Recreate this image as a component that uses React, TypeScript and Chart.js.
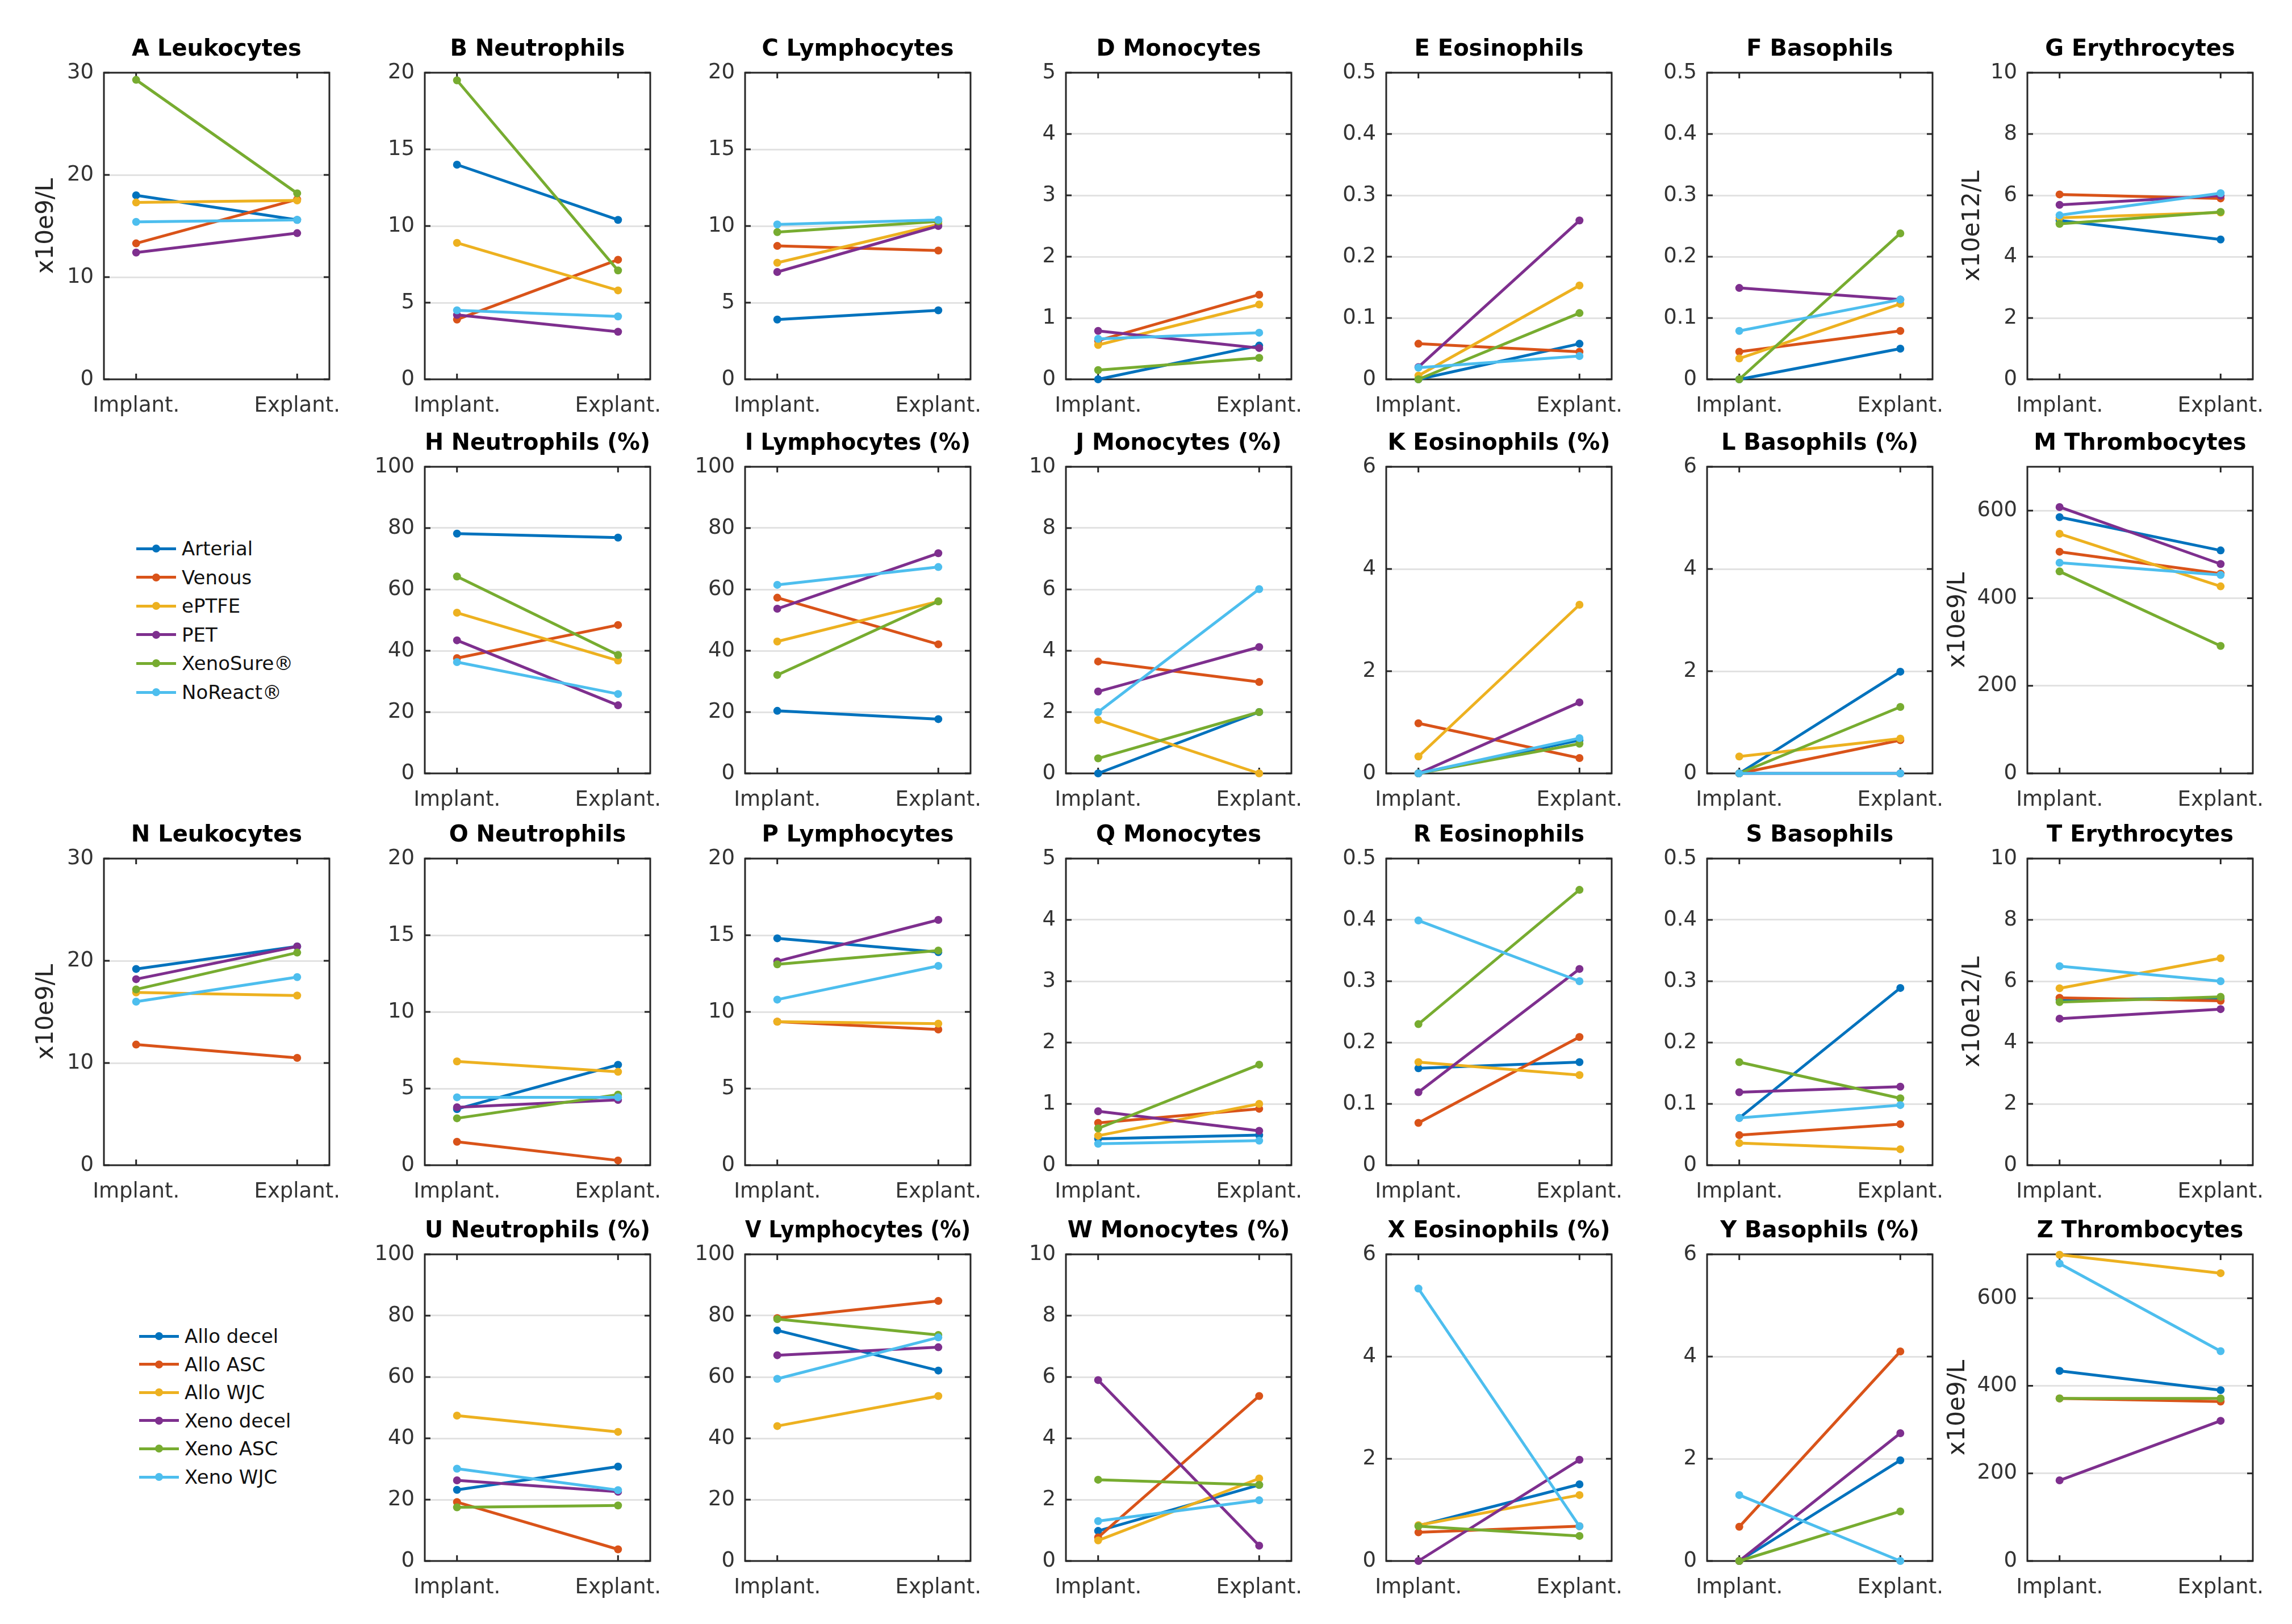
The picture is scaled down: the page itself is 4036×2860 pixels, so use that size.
import React, { useEffect, useRef } from "react";
import { Chart, registerables } from "chart.js";

Chart.register(...registerables);

// ---------- data ----------
const CATEGORIES = ["Implant.", "Explant."];
const GROUPS_TOP = ["Arterial", "Venous", "ePTFE", "PET", "XenoSure®", "NoReact®"];
const GROUPS_BOTTOM = ["Allo decel", "Allo ASC", "Allo WJC", "Xeno decel", "Xeno ASC", "Xeno WJC"];
const COLORS = ["#0072BD", "#D95319", "#EDB120", "#7E2F8E", "#77AC30", "#4DBEEE"];

// each row: [implant, explant] in series order blue, orange, yellow, purple, green, cyan
const A_LEUKOCYTES = [[18.0, 15.6], [13.3, 17.6], [17.3, 17.5], [12.4, 14.3], [29.3, 18.2], [15.4, 15.6]];
const B_NEUTROPHILS = [[14.0, 10.4], [3.9, 7.8], [8.9, 5.8], [4.2, 3.1], [19.5, 7.1], [4.5, 4.1]];
const C_LYMPHOCYTES = [[3.9, 4.5], [8.7, 8.4], [7.6, 10.1], [7.0, 10.0], [9.6, 10.3], [10.1, 10.4]];
const D_MONOCYTES = [[0, 0.55], [0.63, 1.38], [0.56, 1.22], [0.79, 0.51], [0.15, 0.35], [0.66, 0.76]];
const E_EOSINOPHILS = [[0, 0.058], [0.058, 0.045], [0.006, 0.153], [0.02, 0.259], [0, 0.108], [0.019, 0.038]];
const F_BASOPHILS = [[0, 0.05], [0.045, 0.079], [0.034, 0.123], [0.149, 0.13], [0, 0.238], [0.079, 0.13]];
const G_ERYTHROCYTES = [[5.18, 4.56], [6.03, 5.9], [5.27, 5.44], [5.69, 5.99], [5.07, 5.46], [5.35, 6.07]];
const H_NEUTROPHILS_PCT = [[78.2, 76.9], [37.6, 48.4], [52.4, 36.8], [43.4, 22.2], [64.2, 38.6], [36.3, 25.9]];
const I_LYMPHOCYTES_PCT = [[20.4, 17.7], [57.3, 42.1], [43.0, 56.1], [53.7, 71.8], [32.1, 56.1], [61.5, 67.3]];
const J_MONOCYTES_PCT = [[0, 2.0], [3.65, 2.98], [1.74, 0], [2.67, 4.12], [0.49, 2.0], [2.0, 6.01]];
const K_EOSINOPHILS_PCT = [[0, 0.65], [0.98, 0.3], [0.33, 3.3], [0, 1.39], [0, 0.58], [0, 0.69]];
const L_BASOPHILS_PCT = [[0, 1.99], [0, 0.65], [0.33, 0.68], [0, 0], [0, 1.3], [0, 0]];
const M_THROMBOCYTES = [[585, 509], [506, 456], [547, 427], [608, 478], [461, 291], [481, 453]];
const N_LEUKOCYTES = [[19.2, 21.4], [11.8, 10.5], [16.9, 16.6], [18.2, 21.4], [17.2, 20.8], [16.0, 18.4]];
const O_NEUTROPHILS = [[3.66, 6.55], [1.53, 0.31], [6.77, 6.09], [3.78, 4.26], [3.06, 4.6], [4.43, 4.43]];
const P_LYMPHOCYTES = [[14.8, 13.9], [9.36, 8.85], [9.36, 9.23], [13.3, 16.0], [13.1, 14.0], [10.8, 13.0]];
const Q_MONOCYTES = [[0.43, 0.49], [0.69, 0.92], [0.48, 1.0], [0.88, 0.56], [0.6, 1.64], [0.35, 0.4]];
const R_EOSINOPHILS = [[0.158, 0.168], [0.069, 0.209], [0.168, 0.147], [0.119, 0.32], [0.23, 0.449], [0.399, 0.3]];
const S_BASOPHILS = [[0.077, 0.289], [0.049, 0.067], [0.036, 0.026], [0.119, 0.128], [0.168, 0.109], [0.077, 0.098]];
const T_ERYTHROCYTES = [[5.4, 5.45], [5.46, 5.36], [5.77, 6.75], [4.78, 5.09], [5.32, 5.49], [6.49, 6.0]];
const U_NEUTROPHILS_PCT = [[23.2, 30.8], [19.2, 3.8], [47.4, 42.1], [26.3, 22.6], [17.5, 18.1], [30.1, 23.1]];
const V_LYMPHOCYTES_PCT = [[75.2, 62.1], [79.2, 84.8], [44.0, 53.8], [67.1, 69.7], [78.9, 73.7], [59.4, 72.9]];
const W_MONOCYTES_PCT = [[0.98, 2.48], [0.77, 5.38], [0.67, 2.69], [5.9, 0.5], [2.65, 2.48], [1.3, 1.98]];
const X_EOSINOPHILS_PCT = [[0.69, 1.5], [0.56, 0.68], [0.7, 1.29], [0, 1.98], [0.68, 0.49], [5.33, 0.68]];
const Y_BASOPHILS_PCT = [[0, 1.97], [0.67, 4.1], [0, null], [0, 2.5], [0, 0.97], [1.29, 0]];
const Z_THROMBOCYTES = [[434, 390], [371, 364], [699, 657], [184, 320], [371, 371], [679, 479]];

const Y_UNIT_WBC = "x10e9/L";
const Y_UNIT_RBC = "x10e12/L";

type Panel = {
  title: string;
  values: (number | null)[][];
  max: number;
  step: number;
  row: number;
  col: number;
  yTitle?: string;
  yTitleGap?: number;
};

const PANELS: Panel[] = [
  { title: "A Leukocytes", values: A_LEUKOCYTES, max: 30, step: 10, row: 0, col: 0, yTitle: Y_UNIT_WBC, yTitleGap: 101 },
  { title: "B Neutrophils", values: B_NEUTROPHILS, max: 20, step: 5, row: 0, col: 1 },
  { title: "C Lymphocytes", values: C_LYMPHOCYTES, max: 20, step: 5, row: 0, col: 2 },
  { title: "D Monocytes", values: D_MONOCYTES, max: 5, step: 1, row: 0, col: 3 },
  { title: "E Eosinophils", values: E_EOSINOPHILS, max: 0.5, step: 0.1, row: 0, col: 4 },
  { title: "F Basophils", values: F_BASOPHILS, max: 0.5, step: 0.1, row: 0, col: 5 },
  { title: "G Erythrocytes", values: G_ERYTHROCYTES, max: 10, step: 2, row: 0, col: 6, yTitle: Y_UNIT_RBC, yTitleGap: 96 },
  { title: "H Neutrophils (%)", values: H_NEUTROPHILS_PCT, max: 100, step: 20, row: 1, col: 1 },
  { title: "I Lymphocytes (%)", values: I_LYMPHOCYTES_PCT, max: 100, step: 20, row: 1, col: 2 },
  { title: "J Monocytes (%)", values: J_MONOCYTES_PCT, max: 10, step: 2, row: 1, col: 3 },
  { title: "K Eosinophils (%)", values: K_EOSINOPHILS_PCT, max: 6, step: 2, row: 1, col: 4 },
  { title: "L Basophils (%)", values: L_BASOPHILS_PCT, max: 6, step: 2, row: 1, col: 5 },
  { title: "M Thrombocytes", values: M_THROMBOCYTES, max: 700, step: 200, row: 1, col: 6, yTitle: Y_UNIT_WBC, yTitleGap: 122 },
  { title: "N Leukocytes", values: N_LEUKOCYTES, max: 30, step: 10, row: 2, col: 0, yTitle: Y_UNIT_WBC, yTitleGap: 101 },
  { title: "O Neutrophils", values: O_NEUTROPHILS, max: 20, step: 5, row: 2, col: 1 },
  { title: "P Lymphocytes", values: P_LYMPHOCYTES, max: 20, step: 5, row: 2, col: 2 },
  { title: "Q Monocytes", values: Q_MONOCYTES, max: 5, step: 1, row: 2, col: 3 },
  { title: "R Eosinophils", values: R_EOSINOPHILS, max: 0.5, step: 0.1, row: 2, col: 4 },
  { title: "S Basophils", values: S_BASOPHILS, max: 0.5, step: 0.1, row: 2, col: 5 },
  { title: "T Erythrocytes", values: T_ERYTHROCYTES, max: 10, step: 2, row: 2, col: 6, yTitle: Y_UNIT_RBC, yTitleGap: 96 },
  { title: "U Neutrophils (%)", values: U_NEUTROPHILS_PCT, max: 100, step: 20, row: 3, col: 1 },
  { title: "V Lymphocytes (%)", values: V_LYMPHOCYTES_PCT, max: 100, step: 20, row: 3, col: 2 },
  { title: "W Monocytes (%)", values: W_MONOCYTES_PCT, max: 10, step: 2, row: 3, col: 3 },
  { title: "X Eosinophils (%)", values: X_EOSINOPHILS_PCT, max: 6, step: 2, row: 3, col: 4 },
  { title: "Y Basophils (%)", values: Y_BASOPHILS_PCT, max: 6, step: 2, row: 3, col: 5 },
  { title: "Z Thrombocytes", values: Z_THROMBOCYTES, max: 700, step: 200, row: 3, col: 6, yTitle: Y_UNIT_WBC, yTitleGap: 122 },
];

// ---------- layout ----------
const FONT = "'DejaVu Sans', 'Liberation Sans', sans-serif";
const COL_LEFT = [183, 747.5, 1312, 1876.5, 2441, 3005.5, 3570];
const ROW_TOP = [128, 822, 1512, 2209];
const PLOT_W = 397;
const PLOT_H = 540;
const SIDE = 150; // y axis band width (and symmetric right margin)
const TITLE_H = 74;
const XAXIS_H = 80;

const boxPlugin = {
  id: "matlabBox",
  beforeDatasetsDraw(chart: any) {
    const { ctx, chartArea, scales } = chart;
    const { left, top, right, bottom } = chartArea;
    ctx.save();
    ctx.strokeStyle = "#262626";
    ctx.lineWidth = 3;
    ctx.beginPath();
    for (const v of [1, 2]) {
      const px = scales.x.getPixelForValue(v);
      ctx.moveTo(px, bottom);
      ctx.lineTo(px, bottom - 10);
      ctx.moveTo(px, top);
      ctx.lineTo(px, top + 10);
    }
    scales.y.ticks.forEach((t: any) => {
      const py = scales.y.getPixelForValue(t.value);
      ctx.moveTo(left, py);
      ctx.lineTo(left + 10, py);
      ctx.moveTo(right, py);
      ctx.lineTo(right - 10, py);
    });
    ctx.stroke();
    ctx.strokeRect(left, top, right - left, bottom - top);
    ctx.restore();
  },
};

function PanelChart({ panel, names }: { panel: Panel; names: string[] }) {
  const ref = useRef<HTMLCanvasElement | null>(null);
  useEffect(() => {
    if (!ref.current) return;
    const yTitlePad = panel.yTitleGap ? SIDE - panel.yTitleGap - 25.2 : 0;
    const chart = new Chart(ref.current, {
      type: "line",
      data: {
        datasets: panel.values.map((pair, i) => ({
          label: names[i],
          data: pair.map((v, j) => ({ x: j + 1, y: v })),
          borderColor: COLORS[i],
          backgroundColor: COLORS[i],
          pointBackgroundColor: COLORS[i],
          borderWidth: 5,
          pointRadius: 7,
          pointHoverRadius: 7,
          pointBorderWidth: 0,
          tension: 0,
          order: 5 - i,
          clip: false as any,
        })),
      },
      options: {
        animation: false,
        responsive: false,
        maintainAspectRatio: false,
        events: [],
        layout: { padding: { left: 0, right: SIDE, top: 0, bottom: 0 } },
        plugins: {
          legend: { display: false },
          tooltip: { enabled: false },
          title: {
            display: true,
            fullSize: false,
            text: panel.title,
            color: "#000",
            font: { family: FONT, size: 40, weight: "bold" },
            padding: { top: 10, bottom: 16 },
          },
        },
        scales: {
          x: {
            type: "linear",
            min: 0.8,
            max: 2.2,
            afterBuildTicks: (axis: any) => {
              axis.ticks = [{ value: 1 }, { value: 2 }];
            },
            afterFit: (s: any) => {
              s.height = XAXIS_H;
            },
            ticks: {
              callback: (v: any) => CATEGORIES[Math.round(Number(v)) - 1],
              font: { family: FONT, size: 37 },
              color: "#333",
              padding: 25,
              maxRotation: 0,
              autoSkip: false,
            },
            grid: { display: false, drawTicks: false },
            border: { display: false },
          },
          y: {
            type: "linear",
            min: 0,
            max: panel.max,
            afterFit: (s: any) => {
              s.width = SIDE;
            },
            ticks: {
              stepSize: panel.step,
              includeBounds: false,
              callback: (v: any) => String(parseFloat(Number(v).toFixed(4))),
              font: { family: FONT, size: 37 },
              color: "#333",
              padding: 18,
            },
            grid: { color: "#e2e2e2", lineWidth: 3, drawTicks: false },
            border: { display: false },
            title: {
              display: !!panel.yTitle,
              text: panel.yTitle || "",
              color: "#262626",
              font: { family: FONT, size: 42 },
              padding: { top: yTitlePad, bottom: 0 },
            },
          },
        },
      } as any,
      plugins: [boxPlugin],
    });
    return () => chart.destroy();
  }, [panel, names]);

  const left = COL_LEFT[panel.col] - SIDE;
  const top = ROW_TOP[panel.row] - TITLE_H;
  const w = SIDE + PLOT_W + SIDE;
  const h = TITLE_H + PLOT_H + XAXIS_H;
  return (
    <canvas
      ref={ref}
      width={w}
      height={h}
      style={{ position: "absolute", left, top, width: w, height: h }}
    />
  );
}

function Legend({ names, x, y0, dy }: { names: string[]; x: number; y0: number; dy: number }) {
  return (
    <>
      {names.map((n, i) => {
        const cy = y0 + i * dy;
        return (
          <div key={n} style={{ position: "absolute", left: x, top: cy - 25, height: 50, width: 320 }}>
            <div style={{ position: "absolute", left: 0, top: 22.5, width: 70, height: 5, background: COLORS[i] }} />
            <div
              style={{
                position: "absolute",
                left: 28,
                top: 18,
                width: 14,
                height: 14,
                borderRadius: 7,
                background: COLORS[i],
              }}
            />
            <div
              style={{
                position: "absolute",
                left: 80,
                top: 0,
                height: 50,
                lineHeight: "50px",
                fontFamily: FONT,
                fontSize: 34,
                color: "#111",
                whiteSpace: "nowrap",
              }}
            >
              {n}
            </div>
          </div>
        );
      })}
    </>
  );
}

export default function App() {
  useEffect(() => {
    document.body.style.margin = "0";
  }, []);
  return (
    <div style={{ position: "relative", width: 4036, height: 2860, background: "#fff", overflow: "hidden" }}>
      {PANELS.map((p) => (
        <PanelChart key={p.title} panel={p} names={p.row < 2 ? GROUPS_TOP : GROUPS_BOTTOM} />
      ))}
      <Legend names={GROUPS_TOP} x={240} y0={966} dy={50.6} />
      <Legend names={GROUPS_BOTTOM} x={245} y0={2353} dy={49.6} />
    </div>
  );
}
